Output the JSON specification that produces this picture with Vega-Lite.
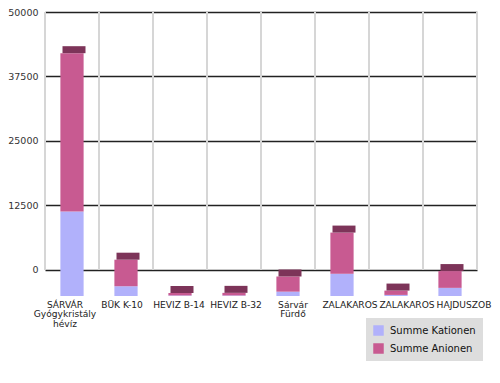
{
  "$schema": "https://vega.github.io/schema/vega-lite/v6.json",
  "width": 432,
  "height": 284,
  "autosize": {"type": "none"},
  "padding": {"left": 45, "top": 12, "right": 23, "bottom": 87},
  "background": "white",
  "config": {"view": {"stroke": null}, "font": "DejaVu Sans"},
  "data": {
    "values": [
      {"Messstelle": "SÁRVÁR\nGyógykristály\nhévíz", "Ion": "Summe Kationen", "Wert": 15600, "Reihenfolge": 1},
      {"Messstelle": "SÁRVÁR\nGyógykristály\nhévíz", "Ion": "Summe Anionen", "Wert": 29200, "Reihenfolge": 2},
      {"Messstelle": "BÜK K-10", "Ion": "Summe Kationen", "Wert": 1800, "Reihenfolge": 1},
      {"Messstelle": "BÜK K-10", "Ion": "Summe Anionen", "Wert": 4900, "Reihenfolge": 2},
      {"Messstelle": "HEVIZ B-14", "Ion": "Summe Kationen", "Wert": 100, "Reihenfolge": 1},
      {"Messstelle": "HEVIZ B-14", "Ion": "Summe Anionen", "Wert": 450, "Reihenfolge": 2},
      {"Messstelle": "HEVIZ B-32", "Ion": "Summe Kationen", "Wert": 100, "Reihenfolge": 1},
      {"Messstelle": "HEVIZ B-32", "Ion": "Summe Anionen", "Wert": 480, "Reihenfolge": 2},
      {"Messstelle": "Sárvár\nFürdő", "Ion": "Summe Kationen", "Wert": 800, "Reihenfolge": 1},
      {"Messstelle": "Sárvár\nFürdő", "Ion": "Summe Anionen", "Wert": 2800, "Reihenfolge": 2},
      {"Messstelle": "ZALAKAROS", "Ion": "Summe Kationen", "Wert": 4100, "Reihenfolge": 1},
      {"Messstelle": "ZALAKAROS", "Ion": "Summe Anionen", "Wert": 7600, "Reihenfolge": 2},
      {"Messstelle": "ZALAKAROS ", "Ion": "Summe Kationen", "Wert": 200, "Reihenfolge": 1},
      {"Messstelle": "ZALAKAROS ", "Ion": "Summe Anionen", "Wert": 800, "Reihenfolge": 2},
      {"Messstelle": "HAJDUSZOB", "Ion": "Summe Kationen", "Wert": 1500, "Reihenfolge": 1},
      {"Messstelle": "HAJDUSZOB", "Ion": "Summe Anionen", "Wert": 3100, "Reihenfolge": 2}
    ]
  },
  "layer": [
    {
      "transform": [{"filter": "datum.Reihenfolge == 1"}],
      "layer": [
        {
          "mark": {"type": "rule", "color": "#d6d6d6", "strokeWidth": 2},
          "encoding": {
            "x": {"field": "Messstelle", "type": "nominal", "sort": null, "bandPosition": 0,
              "scale": {"paddingInner": 0, "paddingOuter": 0}, "axis": null},
            "y": {"datum": 0, "type": "quantitative",
              "scale": {"domain": [-5039, 50000], "nice": false, "zero": false},
              "axis": {"title": null, "values": [0, 12500, 25000, 37500, 50000], "format": "d", "grid": true, "gridColor": "#222222", "gridWidth": 1.5, "domain": false, "ticks": false, "labelPadding": 7, "labelFontSize": 9.5, "labelColor": "#333333", "labelFlush": false}},
            "y2": {"datum": 50000}
          }
        },
        {
          "mark": {"type": "rule", "color": "#d6d6d6", "strokeWidth": 2},
          "transform": [{"filter": "datum.Messstelle == 'HAJDUSZOB'"}],
          "encoding": {
            "x": {"field": "Messstelle", "type": "nominal", "sort": null, "bandPosition": 1,
              "scale": {"paddingInner": 0, "paddingOuter": 0}, "axis": null},
            "y": {"datum": 0, "type": "quantitative"},
            "y2": {"datum": 50000}
          }
        }
      ]
    },
    {
      "layer": [
        {
          "mark": {"type": "bar", "width": {"band": 0.43}},
          "encoding": {
            "x": {"field": "Messstelle", "type": "nominal", "sort": null,
              "scale": {"paddingInner": 0, "paddingOuter": 0}, "axis": null},
            "y": {"field": "Wert", "type": "quantitative", "stack": "zero",
              "scale": {"domain": [0, 52400], "nice": false}, "axis": null},
            "color": {"field": "Ion", "type": "nominal",
              "scale": {"domain": ["Summe Kationen", "Summe Anionen"], "range": ["#b1b1fb", "#c85a91"]},
              "legend": {"orient": "none", "legendX": 321, "legendY": 306, "title": null, "fillColor": "#dddddd", "padding": 7, "symbolType": "square", "symbolSize": 110, "symbolStrokeWidth": 0, "symbolOpacity": 1, "labelFontSize": 10, "labelColor": "#111111", "rowPadding": 7, "labelOffset": 6}},
            "order": {"field": "Reihenfolge", "type": "quantitative"}
          }
        },
        {
          "mark": {"type": "tick", "color": "#7d3459", "thickness": 7, "size": 23, "yOffset": -3.5, "xOffset": 2, "orient": "horizontal"},
          "encoding": {
            "x": {"field": "Messstelle", "type": "nominal", "sort": null, "axis": null},
            "y": {"aggregate": "sum", "field": "Wert", "type": "quantitative", "axis": null}
          }
        }
      ]
    },
    {
      "transform": [{"filter": "datum.Reihenfolge == 1"}],
      "mark": {"type": "text", "text": ""},
      "encoding": {
        "x": {"field": "Messstelle", "type": "nominal", "sort": null,
          "scale": {"range": [-9, 447], "paddingInner": 0, "paddingOuter": 0},
          "axis": {"title": null, "labelAngle": 0, "domain": false, "ticks": false, "grid": false, "labelPadding": 4, "labelFontSize": 9.1, "labelColor": "#222222", "labelOverlap": false, "labelExpr": "split(datum.label, '\\n')", "labelLineHeight": 9.5, "labelBaseline": "top", "labelLimit": 0}}
      }
    }
  ],
  "resolve": {"scale": {"y": "independent", "x": "independent"}, "axis": {"x": "independent"}}
}
